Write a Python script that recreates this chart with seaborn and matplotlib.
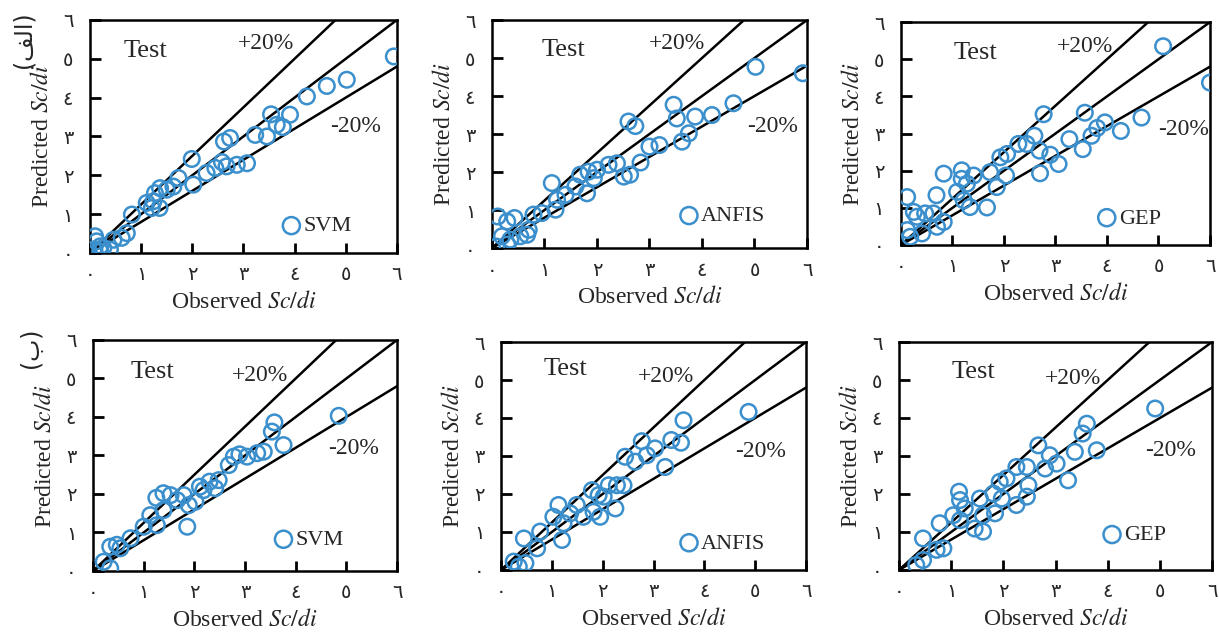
import numpy as np
import pandas as pd
import seaborn as sns
import matplotlib.pyplot as plt

# --- observed / predicted Sc/di, test data ---
# row (a): SVM, ANFIS, GEP
svm_a_obs = [5.94, 5.02, 4.63, 4.24, 3.91, 3.54, 3.65, 3.77, 3.46, 3.23, 2.74, 2.62, 3.07, 2.87,
             2.67, 2.58, 2.45, 2.28, 1.99, 2.02, 1.73, 1.63, 1.50, 1.37, 1.27, 1.24, 1.36, 1.21,
             1.11, 0.82, 0.72, 0.62, 0.46, 0.39, 0.20, 0.10, 0.13, 0.26, 0.20, 0.07]
svm_a_pred = [5.06, 4.46, 4.30, 4.03, 3.56, 3.57, 3.30, 3.24, 3.00, 3.04, 2.96, 2.87, 2.31, 2.27,
              2.23, 2.34, 2.19, 2.06, 2.42, 1.76, 1.93, 1.71, 1.63, 1.67, 1.54, 1.33, 1.16, 1.16,
              1.29, 0.99, 0.51, 0.39, 0.34, 0.09, 0.17, 0.43, 0.30, 0.13, 0.04, 0.09]

anfis_a_obs = [5.92, 5.02, 4.60, 4.19, 3.87, 3.52, 3.46, 3.75, 3.62, 3.19, 3.00, 2.83, 2.60, 2.73,
               2.63, 2.51, 2.38, 2.22, 2.00, 1.94, 1.84, 1.68, 1.59, 1.81, 1.40, 1.14, 1.24, 1.21,
               0.95, 0.79, 0.70, 0.67, 0.43, 0.29, 0.11, 0.19, 0.35, 0.54, 0.08, 0.29]
anfis_a_pred = [4.60, 4.77, 3.81, 3.50, 3.46, 3.41, 3.77, 3.02, 2.80, 2.71, 2.67, 2.25, 3.33, 3.21,
                1.93, 1.88, 2.23, 2.19, 2.06, 1.84, 2.01, 1.93, 1.62, 1.44, 1.40, 1.71, 1.27, 1.01,
                0.92, 0.88, 0.48, 0.35, 0.79, 0.70, 0.83, 0.31, 0.22, 0.31, 0.04, 0.09]

gep_a_obs = [6.00, 5.09, 4.67, 4.27, 3.96, 3.81, 3.70, 3.57, 3.53, 3.27, 3.06, 2.90, 2.77, 2.69,
             2.70, 2.59, 2.44, 2.28, 2.06, 1.93, 2.04, 1.86, 1.73, 1.67, 1.41, 1.28, 1.18, 1.18,
             1.09, 1.22, 1.34, 0.83, 0.69, 0.47, 0.63, 0.83, 0.70, 0.25, 0.31, 0.12, 0.12, 0.41, 0.18]
gep_a_pred = [4.37, 5.35, 3.43, 3.07, 3.30, 3.15, 2.94, 3.56, 2.58, 2.85, 2.18, 2.43, 3.52, 2.54,
              1.93, 2.94, 2.72, 2.72, 2.45, 2.36, 1.87, 1.56, 1.96, 1.01, 1.87, 1.65, 2.01, 1.78,
              1.43, 1.20, 1.02, 1.92, 1.34, 0.85, 0.85, 0.62, 0.49, 0.89, 0.76, 1.29, 0.40, 0.31, 0.22]

# row (b): SVM, ANFIS, GEP
svm_b_obs = [4.85, 3.76, 3.58, 3.53, 3.37, 3.24, 3.04, 2.89, 2.78, 2.68, 2.48, 2.41, 2.30, 2.18,
             2.11, 2.02, 1.89, 1.79, 1.86, 1.66, 1.53, 1.39, 1.25, 1.39, 1.13, 1.26, 1.00, 0.74,
             0.47, 0.34, 0.21, 0.34, 0.54]
svm_b_pred = [4.03, 3.27, 3.86, 3.62, 3.10, 3.06, 2.97, 3.03, 2.97, 2.75, 2.36, 2.15, 2.32, 2.10,
              2.19, 1.80, 1.71, 1.97, 1.15, 1.84, 1.97, 2.02, 1.90, 1.58, 1.45, 1.19, 1.15, 0.85,
              0.68, 0.63, 0.24, 0.07, 0.59]

anfis_b_obs = [4.87, 3.59, 3.54, 3.35, 3.23, 3.03, 2.87, 2.77, 2.64, 2.44, 2.41, 2.28, 2.25, 2.12,
               2.02, 1.92, 1.79, 1.95, 1.82, 1.62, 1.49, 1.36, 1.13, 1.03, 1.23, 1.20, 0.77, 0.71,
               0.45, 0.48, 0.25, 0.35]
anfis_b_pred = [4.16, 3.94, 3.35, 3.42, 2.71, 3.20, 3.02, 3.39, 2.85, 2.98, 2.23, 2.23, 1.62, 2.23,
                1.93, 1.97, 2.10, 1.40, 1.53, 1.40, 1.71, 1.49, 1.71, 1.40, 1.23, 0.79, 1.01, 0.57,
                0.83, 0.18, 0.22, 0.09]

gep_b_obs = [4.91, 3.79, 3.60, 3.52, 3.37, 3.24, 3.02, 2.89, 2.80, 2.67, 2.45, 2.25, 2.48, 2.45,
             2.25, 2.06, 1.93, 1.97, 1.81, 1.84, 1.61, 1.55, 1.61, 1.45, 1.26, 1.17, 1.15, 1.04,
             1.17, 0.78, 0.85, 0.72, 0.46, 0.46, 0.33]
gep_b_pred = [4.25, 3.15, 3.85, 3.59, 3.11, 2.36, 2.80, 3.02, 2.67, 3.28, 2.71, 2.71, 2.23, 1.93,
              1.71, 2.41, 2.32, 1.88, 2.01, 1.49, 1.44, 1.88, 1.01, 1.09, 1.62, 1.84, 2.06, 1.44,
              1.31, 1.23, 0.57, 0.53, 0.83, 0.26, 0.13]

models = ["SVM", "ANFIS", "GEP"]
tick_vals = [0, 1, 2, 3, 4, 5, 6]
tick_labels = ["٠", "١", "٢", "٣", "٤", "٥", "٦"]
panel_labels = ["(\uFED2\uFEDF\u0627)", "(\u0628)"]   # (الف) and (ب), visual order
ref_x = [0, 6]

panels = [
    (svm_a_obs, svm_a_pred), (anfis_a_obs, anfis_a_pred), (gep_a_obs, gep_a_pred),
    (svm_b_obs, svm_b_pred), (anfis_b_obs, anfis_b_pred), (gep_b_obs, gep_b_pred),
]

sns.set_style("ticks")
plt.rcParams["font.family"] = ["Liberation Serif", "DejaVu Sans"]
plt.rcParams["mathtext.fontset"] = "stix"

fig = plt.figure(figsize=(12.19, 6.35), dpi=100)

# axes boxes (left, bottom, width, height) in figure fractions
boxes = [
    (0.0738, 0.6016, 0.2518, 0.367), (0.4036, 0.6094, 0.2584, 0.359), (0.7391, 0.6142, 0.2535, 0.351),
    (0.0763, 0.1008, 0.2494, 0.3638), (0.4110, 0.1024, 0.2502, 0.359), (0.7375, 0.1024, 0.2568, 0.359),
]
# text placement per panel (data coords)
test_pos = [(0.65, 5.2), (0.95, 5.2), (1.02, 5.17), (0.74, 5.18), (0.84, 5.3), (1.0, 5.2)]
plus_pos = [(2.9, 5.4), (2.98, 5.39), (3.03, 5.35), (2.74, 5.09), (2.7, 5.08), (2.8, 5.03)]
minus_pos = [(4.7, 3.26), (4.86, 3.2), (5.0, 3.12), (4.65, 3.19), (4.6, 3.11), (4.72, 3.15)]
leg_pos = [(0.62, 0.115), (0.59, 0.14), (0.63, 0.12), (0.59, 0.135), (0.58, 0.117), (0.645, 0.153)]

blue = "#3a8fcc"

for i, (obs, pred) in enumerate(panels):
    ax = fig.add_axes(boxes[i])
    df = pd.DataFrame({"obs": obs, "pred": pred})

    # 1:1 and +/-20% lines
    ax.plot(ref_x, ref_x, color="black", lw=1.8, zorder=3)
    ax.plot([0, 6 * 0.8], [0, 6], color="black", lw=1.8, zorder=3)
    ax.plot([0, 6], [0, 6 * 0.8], color="black", lw=1.8, zorder=3)

    sns.scatterplot(data=df, x="obs", y="pred", ax=ax, marker="o", s=125,
                    facecolors="none", edgecolors=blue, linewidth=1.8,
                    label=models[i % 3], zorder=4)

    ax.set_xlim(0, 6)
    ax.set_ylim(0, 6)
    ax.set_xticks(tick_vals)
    ax.set_yticks(tick_vals)
    ax.set_xticklabels(tick_labels, family="DejaVu Sans", fontsize=14)
    ax.set_yticklabels(tick_labels, family="DejaVu Sans", fontsize=14)
    ax.tick_params(axis="x", bottom=True, direction="in", length=7, width=2,
                   color="black", pad=9)
    ax.tick_params(axis="y", left=True, direction="in", length=8, width=2,
                   color="black", pad=12)
    for sp in ax.spines.values():
        sp.set_linewidth(1.8)
        sp.set_color("black")

    ax.set_xlabel("Observed $Sc/di$", fontsize=17, labelpad=5)
    ax.set_ylabel("Predicted $Sc/di$", fontsize=17, labelpad=7)

    ax.text(*test_pos[i], "Test", fontsize=19, va="center")
    ax.text(*plus_pos[i], "+20%", fontsize=17, va="center")
    ax.text(*minus_pos[i], "-20%", fontsize=17, va="center")

    ax.legend(loc="center left", bbox_to_anchor=leg_pos[i], frameon=False,
              fontsize=16, handletextpad=0.05, handlelength=1.0,
              borderpad=0, borderaxespad=0, markerscale=1.1)

fig.text(0.019, 0.937, panel_labels[0], rotation=90, fontsize=17,
         family="DejaVu Sans", ha="center", va="center")
fig.text(0.025, 0.453, panel_labels[1], rotation=90, fontsize=17,
         family="DejaVu Sans", ha="center", va="center")

fig.savefig("out.png", dpi=100)
